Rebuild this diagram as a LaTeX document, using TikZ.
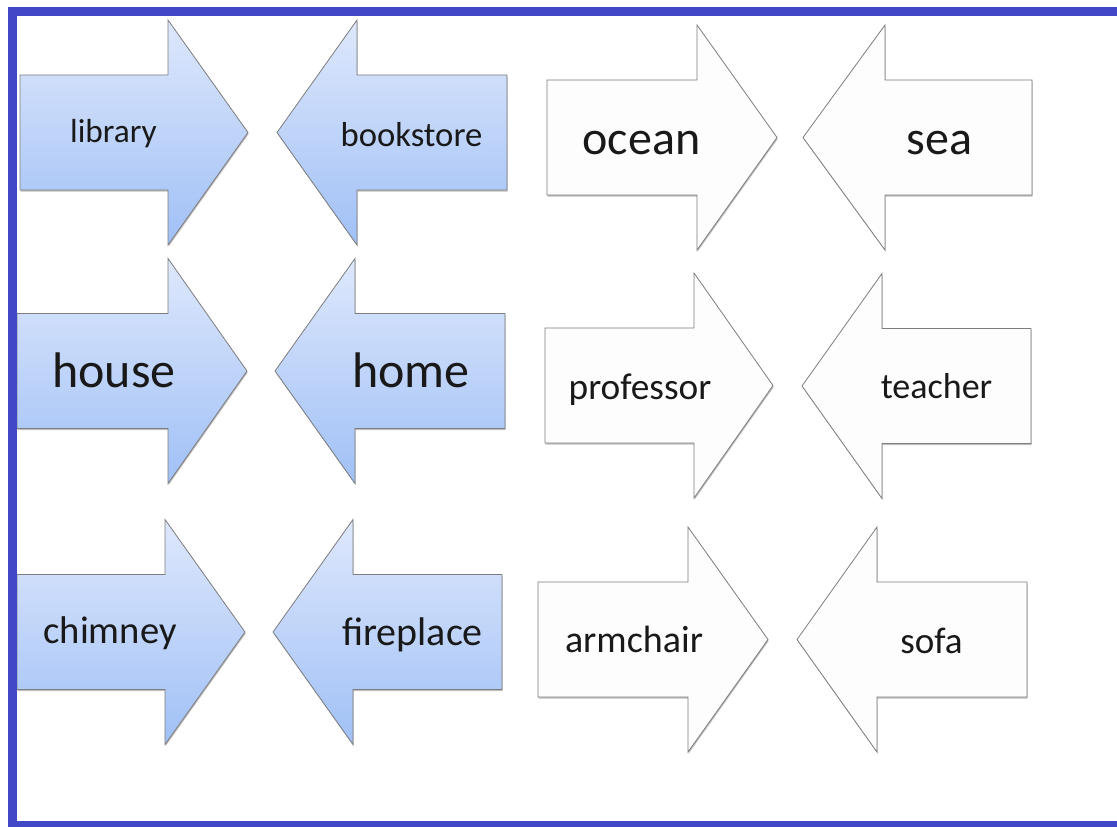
\documentclass[tikz,border=0pt]{standalone}
\usepackage{fontspec}
\setmainfont{Carlito}
\usetikzlibrary{shadows}
\definecolor{frameblue}{RGB}{64,72,200}
\definecolor{topblue}{RGB}{222,232,252}
\definecolor{botblue}{RGB}{160,192,246}
\definecolor{edgegray}{RGB}{125,125,125}
\definecolor{txt}{RGB}{25,25,25}
\definecolor{offwhite}{RGB}{253,253,253}
\tikzset{
  arrowshape/.style={draw=edgegray, line width=0.6pt, line join=miter,
    drop shadow={shadow xshift=0.5pt, shadow yshift=-1.2pt, opacity=0.25, fill=black}},
  bluearrow/.style={arrowshape, top color=topblue, bottom color=botblue},
  whitearrow/.style={arrowshape, fill=offwhite},
  word/.style={text=txt, anchor=base, inner sep=0pt},
}
% right-pointing arrow: style, tail x, head base x, tip x, centre y
\newcommand\myRarrow[5]{%
  \path[#1] (#2,#5-57.5) -- (#3,#5-57.5) -- (#3,#5-112.5) -- (#4,#5)
    -- (#3,#5+112.5) -- (#3,#5+57.5) -- (#2,#5+57.5) -- cycle;}
% left-pointing arrow: style, tip x, head base x, tail x, centre y
\newcommand\myLarrow[5]{%
  \path[#1] (#2,#5) -- (#3,#5-112.5) -- (#3,#5-57.5) -- (#4,#5-57.5)
    -- (#4,#5+57.5) -- (#3,#5+57.5) -- (#3,#5+112.5) -- cycle;}
\newcommand\fs[1]{\fontsize{#1}{#1}\selectfont}
\begin{document}
\begin{tikzpicture}[x=0.75pt,y=-0.75pt]
\clip (0,0) rectangle (1117,827);
\fill[white] (0,0) rectangle (1117,827);
% row 1
\myRarrow{bluearrow}{20}{168}{248}{132.5}
\myLarrow{bluearrow}{277}{357}{507}{132.5}
\myRarrow{whitearrow}{547}{697}{777}{137.5}
\myLarrow{whitearrow}{803}{885}{1032}{137.5}
% row 2
\myRarrow{bluearrow}{17}{168}{247}{371}
\myLarrow{bluearrow}{275}{355}{505}{371}
\myRarrow{whitearrow}{545}{694}{773}{385.5}
\myLarrow{whitearrow}{802}{882}{1031}{386}
% row 3
\myRarrow{bluearrow}{17}{165}{245}{632}
\myLarrow{bluearrow}{273}{353}{502}{632}
\myRarrow{whitearrow}{538}{688}{768}{639.5}
\myLarrow{whitearrow}{797}{877}{1027}{639.5}
% labels
\node[word, font=\fs{25}] (library) at (113.5,143) {library};
\node[word, font=\fs{26}] (bookstore) at (411.5,147) {bookstore};
\node[word, font=\fs{36}] (ocean) at (641.5,155) {ocean};
\node[word, font=\fs{36}] (sea) at (939.5,155) {sea};
\node[word, font=\fs{37.5}] (house) at (114,387) {house};
\node[word, font=\fs{37.5}] (home) at (411,387) {home};
\node[word, font=\fs{28}] (professor) at (640,399) {professor};
\node[word, font=\fs{27}] (teacher) at (936.5,398) {teacher};
\node[word, font=\fs{29}] (chimney) at (110,643) {chimney};
\node[word, font=\fs{30}] (fireplace) at (412.5,645) {fireplace};
\node[word, font=\fs{28.5}] (armchair) at (634,652) {armchair};
\node[word, font=\fs{27.8}] (sofa) at (931.5,653) {sofa};
% frame
\draw[frameblue, line width=6.75pt] (1200,12) -- (12.5,12) -- (12.5,825.5) -- (1200,825.5);
\end{tikzpicture}
\end{document}
